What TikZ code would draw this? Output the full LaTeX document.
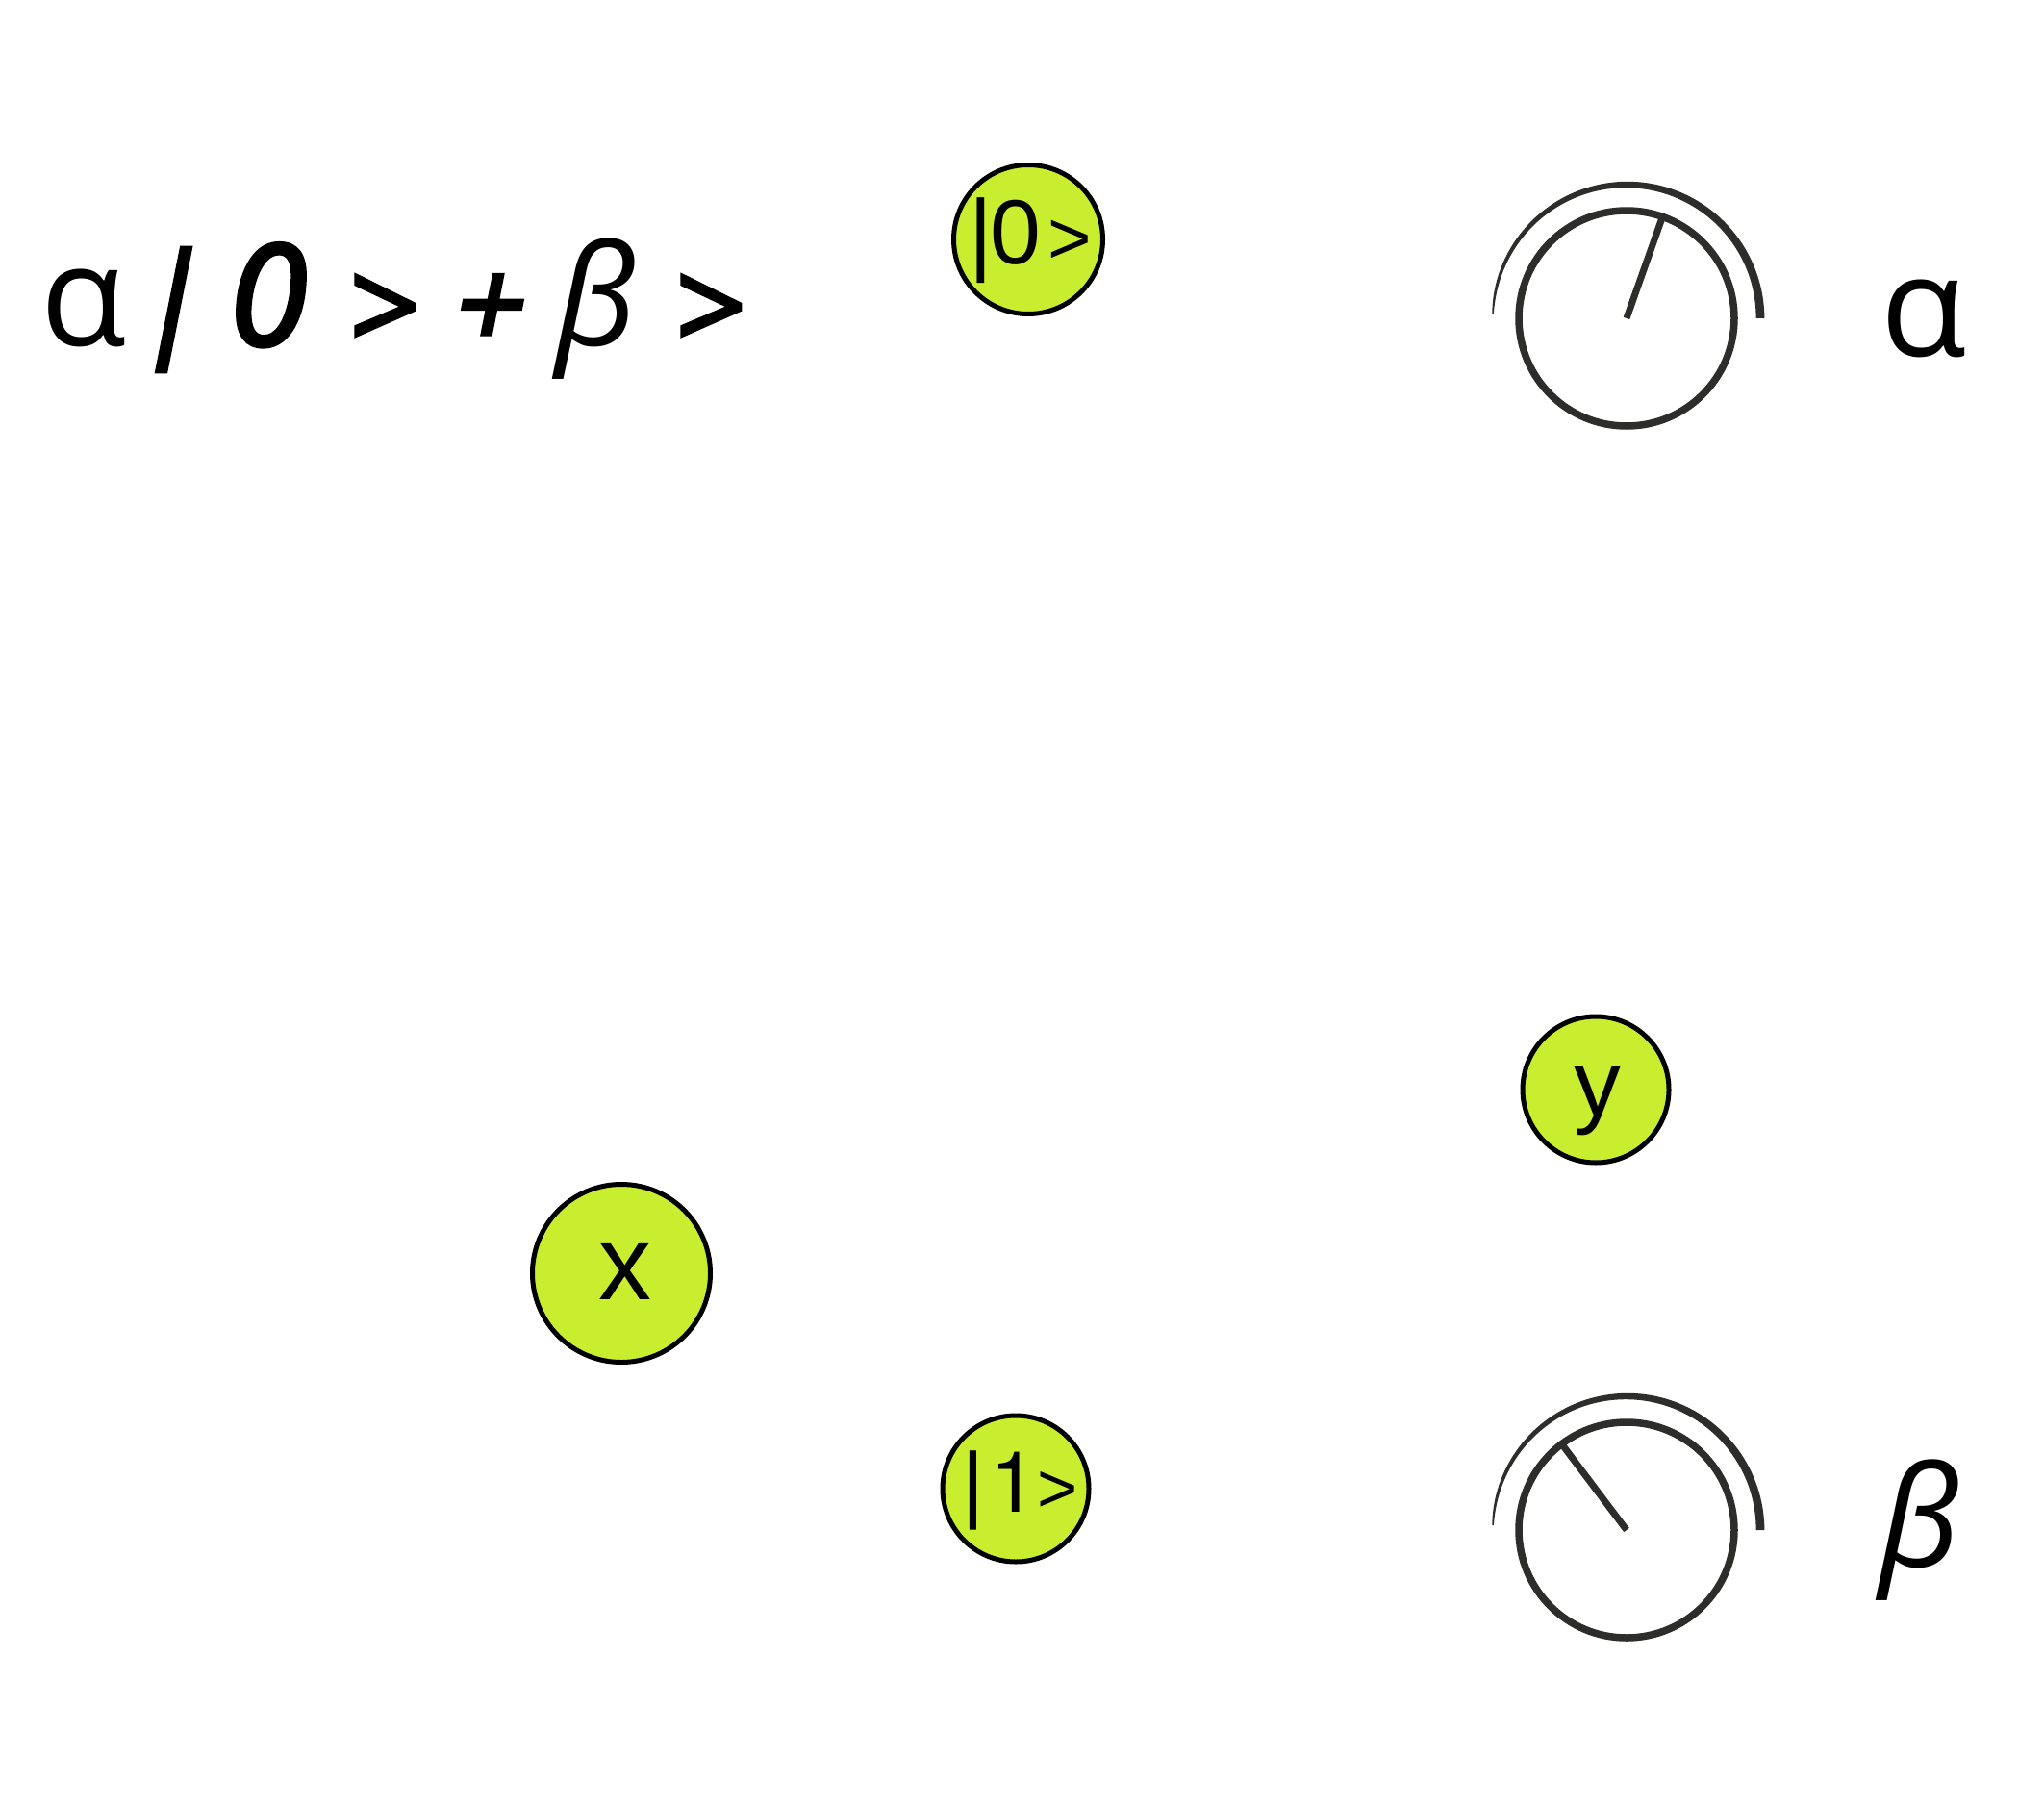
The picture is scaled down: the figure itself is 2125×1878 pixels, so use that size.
\documentclass[tikz,border=0pt]{standalone}
\usepackage{fontspec}
\usetikzlibrary{calc}
\setmainfont{Open Sans}
\newfontfamily\semiit{Open Sans}[FakeBold=3, ItalicFeatures={FakeBold=3}]
\newfontfamily\slashfont{Open Sans}[FakeBold=3.5, FakeSlant=0.2]
\newfontfamily\plusfont{Open Sans}[FakeBold=3, FakeSlant=0.2]
\newfontfamily\ketfont{Liberation Sans}
\newfontfamily\onefont{TeX Gyre Heros}
\definecolor{lime}{HTML}{C8EE2F}
\definecolor{dialc}{HTML}{2D2D2B}
\tikzset{
  qc/.style={circle, draw=black, line width=5pt, fill=lime, inner sep=0pt, text=black},
  fg/.style={inner sep=0pt, anchor=base, font=\fontsize{146}{146}\selectfont\itshape},
  fgb/.style={inner sep=0pt, anchor=base, font=\fontsize{146}{146}\selectfont\semiit\itshape},
  fgc/.style={inner sep=0pt, anchor=base, font=\fontsize{128}{128}\selectfont\semiit\itshape},
  fgp/.style={inner sep=0pt, anchor=base, font=\fontsize{128}{128}\selectfont\plusfont},
  fgs/.style={inner sep=0pt, anchor=base, font=\fontsize{128}{128}\selectfont\slashfont},
  fgu/.style={inner sep=0pt, anchor=base, font=\fontsize{146}{146}\selectfont},
  dialring/.style={draw=dialc, line width=7.5pt},
  needle/.style={draw=dialc, line width=7pt},
  declare function={taper(\t)=0.6+8.2*sqrt(max(0,1-\t/180));}
}
\newcommand{\kt}[3]{\smash{\makebox[0pt]{\hspace*{#1}\raisebox{-#2}{#3}}}}
\begin{document}
\begin{tikzpicture}[x=1pt,y=-1pt]
\useasboundingbox[fill=white] (0,0) rectangle (2125,1878);
% formula
\node[fgu] (f1) at (87,359) {α};
\node[fgs] (f2) at (174,355) {|};
\node[fgb] (f3) at (279,359) {0};
\node[fgc] (f4) at (398,364) {>};
\node[fgp] (f5) at (503,362) {+};
\node[fg]  (f6) at (620,359) {β};
\node[fgc] (f7) at (737,364) {>};
% qubit circles
\node[qc, minimum size=155pt, font=\fontsize{95}{95}\selectfont\ketfont] (k0) at (1069,249)
  {\kt{4pt}{26pt}{|\kern-3pt0\kern7pt\scalebox{0.82}{>}}};
\node[qc, minimum size=185pt, font=\fontsize{110}{110}\selectfont\ketfont] (x) at (646,1324)
  {\kt{8pt}{27pt}{x}};
\node[qc, minimum size=152pt, font=\fontsize{98}{98}\selectfont\ketfont] (y) at (1659,1133)
  {\kt{4pt}{27pt}{y}};
\node[qc, minimum size=152pt, font=\fontsize{88}{88}\selectfont\ketfont] (k1) at (1056,1548)
  {\kt{9pt}{24pt}{|\kern7pt{\onefont 1}\kern0pt\scalebox{0.82}{>}}};
% dials
\foreach \cx/\cy/\ang/\nm in {1691/331/70.5/a, 1691/1591/127/b} {
  \coordinate (c\nm) at (\cx,\cy);
  \draw[dialring] (c\nm) circle[radius=112];
  \coordinate (n\nm) at ($(\cx,\cy)+({110*cos(\ang)},{-110*sin(\ang)})$);
  \draw[needle] (c\nm) -- (n\nm);
  \fill[dialc] plot[domain=0:178,samples=91] ({\cx+(139+taper(\x)/2)*cos(\x)},{\cy-(139+taper(\x)/2)*sin(\x)})
     -- plot[domain=178:0,samples=91] ({\cx+(139-taper(\x)/2)*cos(\x)},{\cy-(139-taper(\x)/2)*sin(\x)}) -- cycle;
}
% labels
\node[fgu] (la) at (2000,370) {α};
\node[fg]  (lb) at (1996,1629) {β};
\end{tikzpicture}
\end{document}
